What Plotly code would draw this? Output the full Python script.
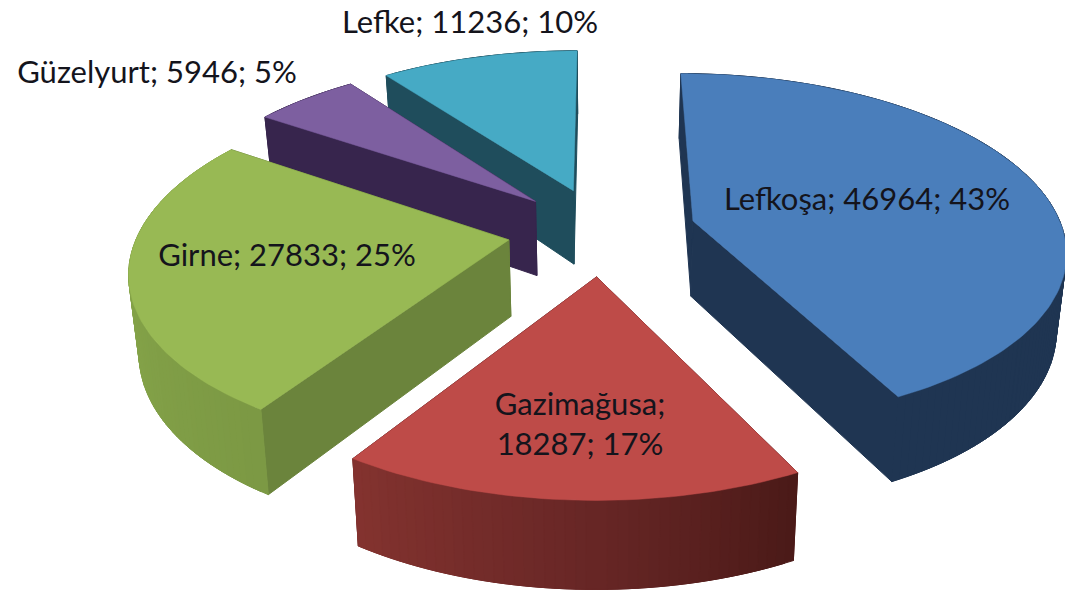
import numpy as np
import plotly.graph_objects as go

districts = ["Lefkoşa", "Gazimağusa", "Girne", "Güzelyurt", "Lefke"]
populations = [46964, 18287, 27833, 5946, 11236]
top_colors = ["#4a7ebb", "#be4b48", "#98b954", "#7d5fa0", "#46aac5"]
cut_colors = ["#1f3552", "#5a2020", "#6b843c", "#37254d", "#1f4d5c"]
arc_stops = [
    ["#1f3552", "#1f3552"],
    ["#4b1a18", "#6b2827", "#84332f"],
    ["#7c9944", "#85a449", "#8cab4f"],
    ["#37254d", "#37254d"],
    ["#1f4d5c", "#1f4d5c"],
]
label_breaks = {"Gazimağusa": ";<br>"}
label_x = [867, 580, 287, 157, 470]
label_y = [202, 427, 258, 75, 25]
draw_order = [4, 3, 0, 2, 1]

# view of the pie: centre, radius, perspective, explosion, thickness
CX, CY, RX, C_Y, K = 602, 231, 370, 1116, 0.155
EXPLODE = 0.255
DEPTH0, DEPTH_SLOPE, BASE_SHRINK = 76, 10.4, 0.978


def project(X, Y, low=False):
    X, Y = np.asarray(X, float), np.asarray(Y, float)
    w = 1 + K * Y
    sx = CX + RX * X / w
    sy = CY + C_Y / w - C_Y
    if low:
        sx = CX + (sx - CX) * BASE_SHRINK
        sy = sy + DEPTH0 - DEPTH_SLOPE * Y
    return sx, sy


def hex_rgb(c):
    return np.array([int(c[i:i + 2], 16) for i in (1, 3, 5)], float)


def ramp(stops, t):
    p = t * (len(stops) - 1)
    i = min(int(p), len(stops) - 2)
    c = hex_rgb(stops[i]) * (1 - (p - i)) + hex_rgb(stops[i + 1]) * (p - i)
    return "rgb(%d,%d,%d)" % tuple(c.round())


def poly(fig, xs, ys, color, width=1.0):
    fig.add_trace(go.Scatter(
        x=list(xs) + [xs[0]], y=list(ys) + [ys[0]], mode="lines", fill="toself", fillcolor=color,
        line=dict(color=color, width=width), hoverinfo="skip", showlegend=False))


total = sum(populations)
shares = np.array(populations) / total
edges = np.concatenate([[0], np.cumsum(shares)]) * 2 * np.pi

fig = go.Figure()
for i in draw_order:
    a0, a1 = edges[i], edges[i + 1]
    mid = (a0 + a1) / 2
    ox, oy = EXPLODE * np.sin(mid), EXPLODE * np.cos(mid)
    ang = np.linspace(a0, a1, max(8, int((a1 - a0) * 45)))
    ax, ay = ox + np.sin(ang), oy + np.cos(ang)

    faces = []
    # the two cut faces
    for px, py in ((ax[0], ay[0]), (ax[-1], ay[-1])):
        qx, qy = np.array([ox, px]), np.array([oy, py])
        tx, ty = project(qx, qy)
        bx, by = project(qx, qy, low=True)
        faces.append(((oy + py) / 2, np.r_[tx, bx[::-1]], np.r_[ty, by[::-1]], cut_colors[i]))
    # outer wall, in narrow overlapping strips so its shading runs along the arc
    for j in range(len(ang) - 1):
        qx, qy = ax[j:j + 3], ay[j:j + 3]
        tx, ty = project(qx, qy)
        bx, by = project(qx, qy, low=True)
        col = ramp(arc_stops[i], j / max(1, len(ang) - 2))
        faces.append((qy.mean(), np.r_[tx, bx[::-1]], np.r_[ty, by[::-1]], col))
    for _, fx, fy, col in sorted(faces, key=lambda f: -f[0]):
        poly(fig, fx, fy, col)

    tx, ty = project(np.r_[ox, ax], np.r_[oy, ay])
    poly(fig, tx, ty, top_colors[i], width=0.5)

labels = []
for name, val, sh in zip(districts, populations, shares):
    sep = label_breaks.get(name, "; ")
    labels.append(f"{name}{sep}{val}; {round(sh * 100)}%")

fig.add_trace(go.Scatter(
    x=label_x, y=label_y, text=labels, mode="text", textposition="middle center",
    textfont=dict(family="Lato", size=31, color="#14141c"),
    hoverinfo="skip", showlegend=False))

fig.update_layout(
    width=1065, height=590, margin=dict(l=0, r=0, t=0, b=0),
    paper_bgcolor="white", plot_bgcolor="white",
    xaxis=dict(range=[0, 1065], visible=False, fixedrange=True),
    yaxis=dict(range=[590, 0], visible=False, fixedrange=True),
)
fig.write_html("out.html", config={"displayModeBar": False},
               post_script="document.body.style.margin='0';document.body.style.overflow='hidden';")
